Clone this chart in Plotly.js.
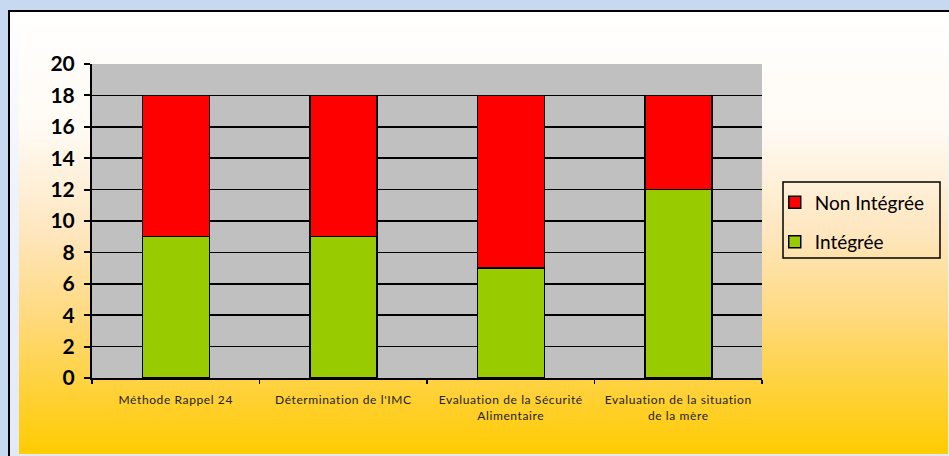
<!DOCTYPE html>
<html>
<head>
<meta charset="utf-8">
<script src="https://cdn.plot.ly/plotly-3.0.1.min.js"></script>
<style>
  html, body { margin: 0; padding: 0; }
  body { width: 949px; height: 456px; background: #c6d9f0; position: relative; overflow: hidden; }
  #frame {
    position: absolute; left: 8px; top: 10px; width: 941px; height: 444px;
    border-left: 2px solid #000; border-top: 2px solid #000;
    background: linear-gradient(to bottom, #ffffff 0%, #eef3fb 40%, #e2eaf8 100%);
  }
  #panel {
    position: absolute; left: 19px; top: 12px; width: 929px; height: 442px;
    background: linear-gradient(to bottom, #ffffff 0%, #fffaf3 27%, #fee6be 50%, #ffd97a 70%, #ffd030 88%, #ffcc00 100%);
  }
  #chart { position: absolute; left: 0; top: 0; width: 949px; height: 456px; }
  /* slightly spaced category labels */
  #chart .xtick text { letter-spacing: 0.6px; }
</style>
</head>
<body>
<div id="frame"></div>
<div id="panel"></div>
<div id="chart"></div>
<script>
// Outils d'évaluation : nombre de structures ayant intégré ou non chaque outil
const categories = [
  "Méthode Rappel 24",
  "Détermination de l'IMC",
  "Evaluation de la Sécurité<br>Alimentaire",
  "Evaluation de la situation<br>de la mère"
];
const integree = [9, 9, 7, 12];
const nonIntegree = [9, 9, 11, 6];
const yTicks = [0, 2, 4, 6, 8, 10, 12, 14, 16, 18, 20];

const barLine = { color: "#000000", width: 1.5 };

const traces = [
  {
    type: "bar", name: "Intégrée", legendgroup: "integree", legendrank: 2,
    x: categories, y: integree,
    marker: { color: "#99cc00", line: barLine }, width: 0.4
  },
  {
    type: "bar", name: "Non Intégrée", legendgroup: "non", legendrank: 1,
    x: categories, y: nonIntegree,
    marker: { color: "#ff0000", line: barLine }, width: 0.4
  }
];

const layout = {
  width: 949, height: 456,
  margin: { l: 92, r: 187, t: 64, b: 78, pad: 0 },
  paper_bgcolor: "rgba(0,0,0,0)",
  plot_bgcolor: "#c0c0c0",
  barmode: "stack",
  showlegend: true,
  legend: {
    x: 1.019, xanchor: "left", y: 0.62, yanchor: "top",
    borderwidth: 0, bgcolor: "rgba(0,0,0,0)",
    traceorder: "grouped", tracegroupgap: 12,
    font: { family: "Lato, 'Open Sans', sans-serif", size: 19, color: "#000000" },
    itemwidth: 30
  },
  // legend frame
  shapes: [{
    type: "rect", xref: "paper", yref: "paper",
    x0: (783 - 92) / 670, x1: (940 - 92) / 670,
    y0: (378 - 258) / 314, y1: (378 - 182) / 314,
    line: { color: "#000000", width: 1.5 }, fillcolor: "rgba(0,0,0,0)"
  }],
  xaxis: {
    type: "category",
    tickson: "boundaries",
    ticks: "outside", ticklen: 4, tickwidth: 1.5, tickcolor: "#000000",
    showline: true, linecolor: "#000000", linewidth: 2,
    showgrid: false,
    ticklabelstandoff: 10,
    tickfont: { family: "Lato, 'Open Sans', sans-serif", size: 12, color: "#222222" }
  },
  yaxis: {
    range: [0, 20], tickvals: yTicks,
    ticks: "outside", ticklen: 6, tickwidth: 2, tickcolor: "#000000",
    showline: true, linecolor: "#000000", linewidth: 2,
    showgrid: true, gridcolor: "#000000", gridwidth: 1.6,
    zeroline: false,
    ticklabelstandoff: 5,
    tickfont: { family: "Lato, 'Open Sans', sans-serif", size: 21, color: "#000000", weight: "bold" }
  }
};

Plotly.newPlot("chart", traces, layout, { displayModeBar: false, staticPlot: true });
</script>
</body>
</html>
